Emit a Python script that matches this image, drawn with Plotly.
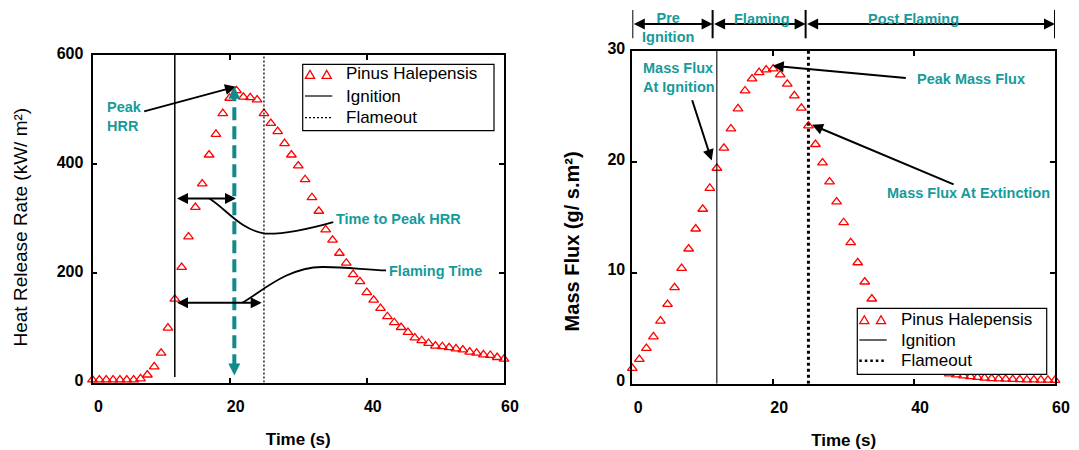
import plotly.graph_objects as go

# ---- data -------------------------------------------------------------
time_s = list(range(61))

# Heat release rate, kW/m2
hrr = [5, 5, 5, 5, 5, 5, 5, 7, 14, 29, 54, 100, 153, 211, 267, 321, 364, 417,
       455, 493, 521, 535, 523, 522, 518, 493, 475, 460, 438, 417, 397, 372,
       339, 314, 280, 261, 237, 219, 198, 185, 165, 151, 136, 121, 110, 101,
       92, 82, 77, 72, 67, 66, 64, 62, 60, 56, 54, 51, 50, 46, 43]

# Mass flux, g/(s.m2)
mass_flux = [1.39, 2.2, 3.19, 4.24, 5.66, 7.16, 8.67, 10.41, 12.16, 13.96,
             15.74, 17.63, 19.44, 21.25, 22.99, 24.8, 26.42, 27.5, 28.07,
             28.31, 28.4, 27.86, 27.02, 25.97, 24.86, 23.26, 21.58, 19.92,
             18.21, 16.4, 14.54, 12.73, 10.92, 9.18, 7.65, 6.3, 5.1, 4.1, 3.3,
             2.6, 2.1, 1.7, 1.4, 1.2, 1.05, 0.9, 0.8, 0.72, 0.65, 0.58, 0.52,
             0.47, 0.44, 0.42, 0.4, 0.38, 0.36, 0.35, 0.34, 0.33, 0.32]

ignition_time = 12
flameout_time = 25

phase_bounds = [0, 11.4, 24.6, 60]
phase_names = ["Pre<br>Ignition", "Flaming", "Post Flaming"]

legend_labels = ["Pinus Halepensis", "Ignition", "Flameout"]

# ---- styling ----------------------------------------------------------
FONT = "Liberation Sans, Arial, sans-serif"
TEAL = "#169b9b"
TEAL_DARK = "#128a8a"

W, H = 1079, 450


def px_x(p):
    return p / W


def px_y(p):
    return 1 - p / H


marker = dict(symbol="triangle-up-open", size=8.5, color="red",
              line=dict(width=1.3, color="red"))

fig = go.Figure()

# left panel: heat release rate
fig.add_trace(go.Scatter(x=time_s, y=hrr, mode="markers", name=legend_labels[0],
                         marker=marker, cliponaxis=False, showlegend=False,
                         xaxis="x", yaxis="y"))
fig.add_trace(go.Scatter(x=[ignition_time, ignition_time], y=[10, 600], mode="lines",
                         name=legend_labels[1], line=dict(color="black", width=1.5),
                         showlegend=False, xaxis="x", yaxis="y"))
fig.add_trace(go.Scatter(x=[flameout_time, flameout_time], y=[0, 600], mode="lines",
                         name=legend_labels[2],
                         line=dict(color="black", width=1.3, dash="2px,2px"),
                         showlegend=False, xaxis="x", yaxis="y"))

# right panel: mass flux
fig.add_trace(go.Scatter(x=time_s, y=mass_flux, mode="markers", name=legend_labels[0],
                         marker=marker, cliponaxis=False, showlegend=False,
                         xaxis="x2", yaxis="y2"))
fig.add_trace(go.Scatter(x=[ignition_time, ignition_time], y=[0, 30], mode="lines",
                         name=legend_labels[1], line=dict(color="black", width=1.1),
                         showlegend=False, xaxis="x2", yaxis="y2"))
fig.add_trace(go.Scatter(x=[flameout_time, flameout_time], y=[0, 30], mode="lines",
                         name=legend_labels[2],
                         line=dict(color="black", width=3, dash="3px,3px"),
                         showlegend=False, xaxis="x2", yaxis="y2"))

axis_common = dict(
    ticks="inside", ticklen=5, tickwidth=1.5, tickcolor="black",
    showline=True, linecolor="black", linewidth=1.8, mirror="ticks",
    showgrid=False, zeroline=False, automargin=False,
    tickfont=dict(family=FONT, size=16, color="black", weight="bold"),
)
xtitle = dict(text="Time (s)", font=dict(family=FONT, size=17, color="black", weight="bold"),
              standoff=20)

fig.update_layout(
    template="none",
    width=W, height=H,
    margin=dict(l=0, r=0, t=0, b=0, autoexpand=False),
    paper_bgcolor="white", plot_bgcolor="white",
    font=dict(family=FONT, color="black"),
    showlegend=False,
    xaxis=dict(axis_common, domain=[px_x(92.5), px_x(504)], range=[0, 60],
               tickvals=[0, 20, 40, 60], anchor="y", ticklabelshift=6,
               ticklabelstandoff=8, title=xtitle),
    yaxis=dict(axis_common, domain=[px_y(382.5), px_y(55)], range=[0, 600],
               tickvals=[0, 200, 400, 600], anchor="x", ticklabelshift=-2,
               ticklabelstandoff=4),
    xaxis2=dict(axis_common, domain=[px_x(632.3), px_x(1055)], range=[0, 60],
                tickvals=[0, 20, 40, 60], anchor="y2", ticklabelshift=6,
                ticklabelstandoff=8, title=xtitle),
    yaxis2=dict(axis_common, domain=[px_y(383.7), px_y(51)], range=[0, 30],
                tickvals=[0, 10, 20, 30], anchor="x2", ticklabelshift=-3,
                ticklabelstandoff=2),
)

label_font = dict(family=FONT, size=14.5, color=TEAL, weight="bold")
annotations = []
shapes = []


def arrow(x, y, ax, ay, xref="x", yref="y", both=False, color="black", width=2, size=1.1):
    annotations.append(dict(
        x=x, y=y, ax=ax, ay=ay, xref=xref, yref=yref, axref=xref, ayref=yref,
        text="", showarrow=True, arrowhead=2, arrowsize=size, arrowwidth=width,
        arrowcolor=color, arrowside="end+start" if both else "end",
        standoff=0, startstandoff=0))


def label(text, x, y, xref="x", yref="y", xanchor="left", font=label_font):
    annotations.append(dict(text=text, x=x, y=y, xref=xref, yref=yref,
                            xanchor=xanchor, yanchor="middle", align="left",
                            showarrow=False, font=font))


# --- left panel annotations ---
label("Peak<br>HRR", 1.82, 488)
arrow(20.92, 542, 7.32, 496)

# peak time marker (dashed, double headed)
shapes.append(dict(type="line", xref="x", yref="y", x0=20.68, x1=20.68, y0=28, y1=528,
                   line=dict(color=TEAL_DARK, width=4, dash="13px,6px")))
arrow(20.68, 542, 20.68, 526, color=TEAL_DARK, width=3, size=0.8)
arrow(20.68, 13, 20.68, 29, color=TEAL_DARK, width=3, size=0.8)

# time to peak
arrow(20.92, 337, 12.1, 337, both=True)
shapes.append(dict(type="path", xref="x", yref="y",
                   path="M 17.03,337 C 19.5,318 21.5,280 25.15,272.8 "
                        "C 28,271.5 32,283 35.11,294",
                   line=dict(color="black", width=1.8)))
label("Time to Peak HRR", 35.2, 299)

# flaming time
arrow(24.67, 146, 12.1, 146, both=True)
shapes.append(dict(type="path", xref="x", yref="y",
                   path="M 21.84,146 C 25,170 28.5,211 33.5,211.6 "
                        "C 37,212 40,206 42.8,205.5",
                   line=dict(color="black", width=1.8)))
label("Flaming Time", 43.0, 204)

# --- right panel annotations ---
label("Mass Flux<br>At Ignition", 1.2, 27.61, xref="x2", yref="y2")
arrow(11.27, 20.13, 8.43, 25.7, xref="x2", yref="y2")
label("Peak Mass Flux", 40.13, 27.5, xref="x2", yref="y2")
arrow(19.93, 28.67, 39.03, 27.56, xref="x2", yref="y2")
label("Mass Flux At Extinction", 47.74, 17.23, xref="x2", yref="y2", xanchor="center")
arrow(25.51, 23.34, 45.82, 17.92, xref="x2", yref="y2")

# phase header above the right panel
for b in phase_bounds:
    shapes.append(dict(type="line", xref="x2", yref="paper", x0=b, x1=b,
                       y0=px_y(38.3), y1=px_y(10), line=dict(color="black", width=2)))
for a, b in zip(phase_bounds[:-1], phase_bounds[1:]):
    annotations.append(dict(x=b, y=px_y(24), xref="x2", yref="paper",
                            ax=a, ay=0, axref="x2", ayref="pixel",
                            text="", showarrow=True, arrowhead=2, arrowsize=1.1,
                            arrowwidth=2, arrowcolor="black", arrowside="end+start",
                            standoff=0, startstandoff=0))
for name, cx, cy in zip(phase_names, [5.11, 18.37, 39.89], [28, 19, 19]):
    annotations.append(dict(text=name, x=cx, y=px_y(cy), xref="x2", yref="paper",
                            xanchor="center", yanchor="middle", showarrow=False,
                            font=label_font))

# y axis titles
annotations.append(dict(text="Heat Release Rate (kW/ m²)", x=px_x(20), y=px_y(227.5),
                        xref="paper", yref="paper", textangle=-90, showarrow=False,
                        xanchor="center", yanchor="middle",
                        font=dict(family=FONT, size=19, color="black")))
annotations.append(dict(text="Mass Flux (g/ s.m²)", x=px_x(571.7), y=px_y(241.7),
                        xref="paper", yref="paper", textangle=-90, showarrow=False,
                        xanchor="center", yanchor="middle",
                        font=dict(family=FONT, size=20, color="black", weight="bold")))


# ---- boxed legends (two marker glyphs per series entry) ----------------
def draw_legend(box, row_ys, text_x, tri_xs, line_x, flame_line):
    x0, y0, x1, y1 = box
    shapes.append(dict(type="rect", xref="paper", yref="paper",
                       x0=px_x(x0), x1=px_x(x1), y0=px_y(y1), y1=px_y(y0),
                       fillcolor="white", line=dict(color="black", width=1.2)))
    # marker entry
    cy = row_ys[0] + 1
    for cx in tri_xs:
        pts = [(cx, cy - 4.6), (cx - 4.6, cy + 3.4), (cx + 4.6, cy + 3.4)]
        path = "M " + " L ".join(f"{px_x(a):.5f},{px_y(b):.5f}" for a, b in pts) + " Z"
        shapes.append(dict(type="path", xref="paper", yref="paper", path=path,
                           line=dict(color="red", width=1.3)))
    # ignition entry
    shapes.append(dict(type="line", xref="paper", yref="paper",
                       x0=px_x(line_x[0]), x1=px_x(line_x[1]),
                       y0=px_y(row_ys[1]), y1=px_y(row_ys[1]),
                       line=dict(color="black", width=1.2)))
    # flameout entry
    shapes.append(dict(type="line", xref="paper", yref="paper",
                       x0=px_x(line_x[0]), x1=px_x(line_x[1]),
                       y0=px_y(row_ys[2]), y1=px_y(row_ys[2]),
                       line=flame_line))
    for text, ry in zip(legend_labels, row_ys):
        annotations.append(dict(text=text, x=px_x(text_x), y=px_y(ry),
                                xref="paper", yref="paper", xanchor="left",
                                yanchor="middle", showarrow=False,
                                font=dict(family=FONT, size=17, color="black")))


draw_legend((302.7, 64.3, 494, 130.7), [74, 96, 117.7], 344.3, [310, 326.7],
            (305, 332.3), dict(color="black", width=1.2, dash="2px,2px"))
draw_legend((857.3, 308.3, 1046.7, 374.3), [319.3, 340, 360.7], 899, [864.3, 881],
            (859.3, 886.7), dict(color="black", width=2.5, dash="2.5px,3px"))

fig.update_layout(annotations=annotations, shapes=shapes)
fig.write_html("out.html")
